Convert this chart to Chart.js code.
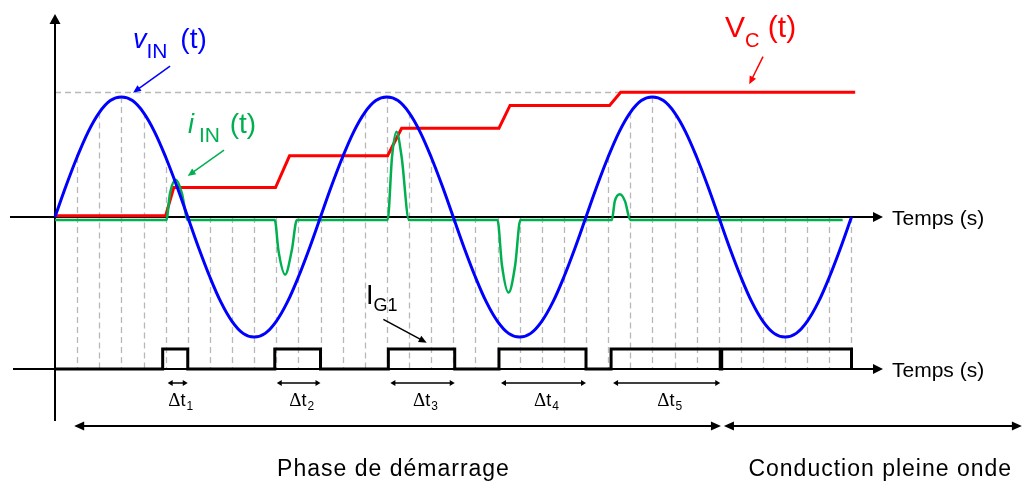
<!DOCTYPE html>
<html lang="fr">
<head>
<meta charset="utf-8">
<script src="https://cdn.jsdelivr.net/npm/chart.js@4.4.1/dist/chart.umd.min.js"></script>
<style>
  html, body { margin: 0; padding: 0; background: #fff; }
  #chart { display: block; }
</style>
</head>
<body>
<canvas id="chart" width="1024" height="483"></canvas>
<script>
/* globals Chart:false */
(() => {
  'use strict'

  // x in electrical degrees, 3 mains periods; vIN sampled every 15°
  const step = 15
  const vIN = [
    0, 0.26, 0.5, 0.71, 0.87, 0.97, 1, 0.97, 0.87, 0.71, 0.5, 0.26,
    0, -0.26, -0.5, -0.71, -0.87, -0.97, -1, -0.97, -0.87, -0.71, -0.5, -0.26,
    0, 0.26, 0.5, 0.71, 0.87, 0.97, 1, 0.97, 0.87, 0.71, 0.5, 0.26,
    0, -0.26, -0.5, -0.71, -0.87, -0.97, -1, -0.97, -0.87, -0.71, -0.5, -0.26,
    0, 0.26, 0.5, 0.71, 0.87, 0.97, 1, 0.97, 0.87, 0.71, 0.5, 0.26,
    0, -0.26, -0.5, -0.71, -0.87, -0.97, -1, -0.97, -0.87, -0.71, -0.5, -0.26,
    0
  ]

  // capacitor voltage steps [deg, value]
  const vC = [
    [0, 0.01], [150, 0.01], [161, 0.245], [299, 0.245], [318, 0.51],
    [451, 0.51], [470, 0.74], [602, 0.74], [617, 0.93], [752, 0.93],
    [767, 1.04], [1085, 1.04]
  ]

  // line current pulses [deg, value]
  const iIN = [
    [0, -0.025],
    [151, -0.025], [156, 0.2], [164, 0.31], [172, 0.2], [180, -0.025],
    [298, -0.025], [303, -0.28], [312, -0.48], [321, -0.28], [328, -0.025],
    [451, -0.025], [457, 0.5], [463, 0.71], [470, 0.5], [480, -0.025],
    [600, -0.025], [606, -0.4], [615, -0.63], [624, -0.4], [631, -0.025],
    [755, -0.025], [759, 0.13], [766, 0.19], [773, 0.13], [780, -0.025],
    [1068, -0.025]
  ]

  // gate command IG1: on intervals [from, to] in degrees
  const gateOn = [[146, 180], [298, 360], [452, 542], [602, 720], [754, 902], [904, 1080]]
  const deltaNames = ['1', '2', '3', '4', '5']

  const phases = [
    { label: 'Phase de démarrage', from: 26, to: 903, textAt: 459 },
    { label: 'Conduction pleine onde', from: 907, to: 1311, textAt: 1119 }
  ]

  const BLUE = '#0000ff'
  const GREEN = '#00b050'
  const RED = '#ff0000'
  const SANS = "'Liberation Sans', Arial, sans-serif"

  const gate = [{ x: 0, y: 0 }]
  gateOn.forEach(([a, b]) => {
    gate.push({ x: a, y: 0 }, { x: a, y: 1 }, { x: b, y: 1 }, { x: b, y: 0 })
  })

  function arrowHead (ctx, x1, y1, x2, y2, len, half) {
    const ang = Math.atan2(y2 - y1, x2 - x1)
    ctx.beginPath()
    ctx.moveTo(x2, y2)
    ctx.lineTo(x2 - len * Math.cos(ang) + half * Math.sin(ang), y2 - len * Math.sin(ang) - half * Math.cos(ang))
    ctx.lineTo(x2 - len * Math.cos(ang) - half * Math.sin(ang), y2 - len * Math.sin(ang) + half * Math.cos(ang))
    ctx.closePath()
    ctx.fill()
  }

  function arrow (ctx, x1, y1, x2, y2, opts) {
    const { color = '#000', width = 1.5, len = 8, half = 3.5, both = false } = opts || {}
    ctx.strokeStyle = color
    ctx.fillStyle = color
    ctx.lineWidth = width
    const ang = Math.atan2(y2 - y1, x2 - x1)
    const sx = both ? x1 + (len - 1) * Math.cos(ang) : x1
    const sy = both ? y1 + (len - 1) * Math.sin(ang) : y1
    ctx.beginPath()
    ctx.moveTo(sx, sy)
    ctx.lineTo(x2 - (len - 1) * Math.cos(ang), y2 - (len - 1) * Math.sin(ang))
    ctx.stroke()
    arrowHead(ctx, x1, y1, x2, y2, len, half)
    if (both) arrowHead(ctx, x2, y2, x1, y1, len, half)
  }

  // text runs with subscripts: [text, font, dy, gapAfter]
  function richText (ctx, x, y, color, parts, align) {
    ctx.fillStyle = color
    ctx.textAlign = 'left'
    ctx.textBaseline = 'alphabetic'
    let total = 0
    parts.forEach(([t, f, , g]) => { ctx.font = f; total += ctx.measureText(t).width + (g || 0) })
    let cx = align === 'center' ? x - total / 2 : x
    parts.forEach(([t, f, dy, g]) => {
      ctx.font = f
      ctx.fillText(t, cx, y + (dy || 0))
      cx += ctx.measureText(t).width + (g || 0)
    })
  }

  const diagram = {
    id: 'diagram',
    beforeDatasetsDraw (chart) {
      const { ctx, scales: { x, y, yG } } = chart
      const base = yG.getPixelForValue(0)
      ctx.save()

      // dashed 30° grid, from the sine (or the axis) down to the gate trace
      ctx.strokeStyle = '#b8b8b8'
      ctx.lineWidth = 1.3
      ctx.setLineDash([6, 4])
      for (let i = 2; i < vIN.length; i += 2) {
        const px = Math.round(x.getPixelForValue(i * step)) + 0.5
        ctx.beginPath()
        ctx.moveTo(px, y.getPixelForValue(Math.max(vIN[i], 0)))
        ctx.lineTo(px, base)
        ctx.stroke()
      }
      // peak level
      const peak = vC[vC.length - 1]
      const py = Math.round(y.getPixelForValue(peak[1])) + 0.5
      ctx.beginPath()
      ctx.moveTo(x.getPixelForValue(0), py)
      ctx.lineTo(x.getPixelForValue(vC[vC.length - 2][0]), py)
      ctx.stroke()
      ctx.setLineDash([])

      // axes
      const x0 = x.getPixelForValue(0)
      const y0 = y.getPixelForValue(0)
      arrow(ctx, x0, 421, x0, 14, { width: 2, len: 10, half: 5.5 })
      arrow(ctx, 10, y0, 883, y0, { width: 2, len: 10, half: 5 })
      arrow(ctx, 13, base, 883, base, { width: 2, len: 10, half: 5 })
      ctx.fillStyle = '#000'
      ctx.font = '21px ' + SANS
      ctx.textBaseline = 'alphabetic'
      ctx.fillText('Temps (s)', 892, y0 + 8)
      ctx.fillText('Temps (s)', 892, base + 8)
      ctx.restore()
    },
    afterDatasetsDraw (chart) {
      const { ctx, scales: { x, y, yG } } = chart
      const base = yG.getPixelForValue(0)
      ctx.save()

      // conduction intervals Δt1..Δt5
      deltaNames.forEach((n, k) => {
        const [a, b] = gateOn[k]
        const xa = x.getPixelForValue(a) + (k === 0 ? 5 : 2)
        const xb = x.getPixelForValue(b)
        arrow(ctx, xa, base + 14, xb, base + 14, { width: 1.5, len: 5, half: 3, both: true })
        richText(ctx, (xa + xb) / 2 + 3, base + 37, '#000', [
          ['\u0394', "19px 'Liberation Serif', 'Times New Roman', serif", 0],
          ['t', '18px ' + SANS, 0, 1],
          [n, '12px ' + SANS, 4]
        ], 'center')
      })

      // operating phases
      phases.forEach(p => {
        arrow(ctx, x.getPixelForValue(p.from), base + 57, x.getPixelForValue(p.to), base + 57,
          { width: 2, len: 10, half: 4.5, both: true })
        ctx.fillStyle = '#000'
        ctx.font = '23px ' + SANS
        ctx.letterSpacing = '1px'
        ctx.textAlign = 'center'
        ctx.fillText(p.label, x.getPixelForValue(p.textAt), base + 107)
        ctx.letterSpacing = '0px'
      })

      // curve names
      richText(ctx, x.getPixelForValue(105.8), y.getPixelForValue(1.408), BLUE, [
        ['v', 'italic 27px ' + SANS, 0],
        ['IN', '21px ' + SANS, 10, 5],
        [' (t)', '28px ' + SANS, 0]
      ])
      arrow(ctx, x.getPixelForValue(156), y.getPixelForValue(1.258), x.getPixelForValue(105.8), y.getPixelForValue(1.036), { color: BLUE })

      richText(ctx, x.getPixelForValue(180.3), y.getPixelForValue(0.7), GREEN, [
        ['i', 'italic 27px ' + SANS, 0, 5],
        ['IN', '21px ' + SANS, 9, 2],
        [' (t)', '28px ' + SANS, 0]
      ])
      arrow(ctx, x.getPixelForValue(229.2), y.getPixelForValue(0.558), x.getPixelForValue(179.9), y.getPixelForValue(0.342), { color: GREEN })

      richText(ctx, x.getPixelForValue(908.5), y.getPixelForValue(1.5), RED, [
        ['V', '30px ' + SANS, 0],
        ['C', '20px ' + SANS, 10],
        [' (t)', '30px ' + SANS, 0]
      ])
      arrow(ctx, x.getPixelForValue(960), y.getPixelForValue(1.336), x.getPixelForValue(941.4), y.getPixelForValue(1.106), { color: RED })

      richText(ctx, x.getPixelForValue(421.7), y.getPixelForValue(-0.725), '#000', [
        ['I', '27px ' + SANS, 0],
        ['G1', '18px ' + SANS, 7]
      ])
      arrow(ctx, x.getPixelForValue(445.2), y.getPixelForValue(-0.8525), x.getPixelForValue(504), y.getPixelForValue(-1.0475), { color: '#000' })
      ctx.restore()
    }
  }

  const ctx = document.getElementById('chart')
  // eslint-disable-next-line no-unused-vars
  const myChart = new Chart(ctx, {
    type: 'line',
    data: {
      datasets: [{
        label: 'vIN',
        data: vIN.map((v, i) => ({ x: i * step, y: v })),
        borderColor: BLUE,
        borderWidth: 3,
        tension: 0.35,
        pointRadius: 0
      }, {
        label: 'iIN',
        data: iIN.map(([x, y]) => ({ x, y })),
        borderColor: GREEN,
        borderWidth: 2.5,
        cubicInterpolationMode: 'monotone',
        pointRadius: 0
      }, {
        label: 'VC',
        data: vC.map(([x, y]) => ({ x, y })),
        borderColor: RED,
        borderWidth: 3,
        tension: 0,
        pointRadius: 0
      }, {
        label: 'IG1',
        data: gate,
        yAxisID: 'yG',
        borderColor: '#000',
        borderWidth: 3,
        tension: 0,
        pointRadius: 0
      }]
    },
    options: {
      responsive: false,
      animation: false,
      events: [],
      layout: { padding: 0 },
      plugins: {
        legend: { display: false },
        tooltip: { enabled: false }
      },
      scales: {
        x: { type: 'linear', min: -74.58, max: 1313.9, display: false },
        y: { min: -2.2167, max: 1.8083, display: false },
        yG: { min: -5.7, max: 18.45, display: false }
      }
    },
    plugins: [diagram]
  })
})()
</script>
</body>
</html>
